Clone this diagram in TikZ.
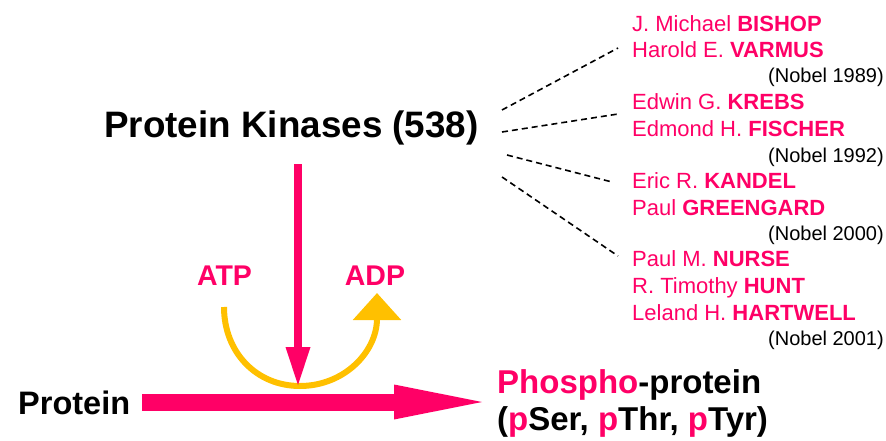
\documentclass[tikz,border=0pt]{standalone}
\usepackage{fontspec}
\setmainfont{Liberation Sans}
\usetikzlibrary{arrows.meta}
\definecolor{kinpink}{RGB}{255,0,102}
\definecolor{atpgold}{RGB}{255,192,0}
\tikzstyle{bigtext}=[anchor=base,inner sep=0pt,font=\bfseries\fontsize{36.8}{40}\selectfont]
\tikzstyle{midtext}=[anchor=base west,inner sep=0pt,font=\bfseries\fontsize{33}{37}\selectfont]
\tikzstyle{cofactor}=[anchor=base,inner sep=0pt,text=kinpink,font=\bfseries\fontsize{28.5}{31}\selectfont]
\tikzstyle{laureate}=[anchor=base west,inner sep=0pt,text=kinpink,font=\fontsize{22}{25}\selectfont]
\tikzstyle{prize}=[anchor=base east,inner sep=0pt,font=\fontsize{20}{23}\selectfont]
\tikzstyle{link} = [draw,line width=1.6pt,dash pattern=on 6pt off 4pt]

\begin{document}
\begin{tikzpicture}[x=1pt,y=-1pt]
    % Fix the page to the size of the slide
    \useasboundingbox (0,0) rectangle (886,441);

    % First we place the main labels
    \node[bigtext] (kinases) at (291.5,138) {Protein Kinases (538)};
    \node[midtext,font=\bfseries\fontsize{32.5}{36}\selectfont] (protein) at (18,414) {Protein};
    \node[midtext] (phospho) at (497,393) {\textcolor{kinpink}{Phospho}-protein};
    \node[midtext] (psites) at (497,430) {(\textcolor{kinpink}{p}Ser, \textcolor{kinpink}{p}Thr, \textcolor{kinpink}{p}Tyr)};
    \node[cofactor] (atp) at (224.5,285) {ATP};
    \node[cofactor] (adp) at (375,285) {ADP};

    % Then the laureates and their years
    \foreach \y/\name/\who in {32/bishop/J. Michael \textbf{BISHOP}, 58/varmus/Harold E. \textbf{VARMUS},
        110/krebs/Edwin G. \textbf{KREBS}, 137/fischer/Edmond H. \textbf{FISCHER},
        188/kandel/Eric R. \textbf{KANDEL}, 215/greengard/Paul \textbf{GREENGARD},
        266/nurse/Paul M. \textbf{NURSE}, 293/hunt/R. Timothy \textbf{HUNT}, 320/hartwell/Leland H. \textbf{HARTWELL}}
        \node[laureate] (\name) at (632,\y) {\who};
    \foreach \y/\year in {83/1989, 163/1992, 240/2000, 345/2001}
        \node[prize] (nobel\year) at (884,\y) {(Nobel \year)};

    % Ends of the connectors
    \foreach \x/\y/\name in {502/110/k1, 502/132/k2, 507/155/k3, 502/177/k4,
        618/48/n1, 618/114/n2, 612/182/n3, 618/256/n4,
        298/164/kfoot, 298/347/kbase, 298/385/khit,
        142/402/ptail, 394/402/pbase, 482/402/phead,
        224/307/atpfoot, 377/293/adpfoot}
        \coordinate (\name) at (\x,\y);

    % Dashed links to the prizes
    \foreach \source/ \dest in {k1/n1, k2/n2, k3/n3, k4/n4}
        \path[link] (\source) -- (\dest);

    % ATP -> ADP
    \draw[atpgold,line width=6pt,-{Triangle[length=27pt,width=47pt]}]
        (atpfoot) .. controls (224,352) and (256,386) .. (300,386)
        .. controls (344,386) and (377,352) .. (adpfoot);

    % Reaction arrows: shaft, then head
    \draw[kinpink,line width=17pt] (ptail) -- (pbase);
    \fill[kinpink] ([yshift=-17.5]pbase) -- (phead) -- ([yshift=17.5]pbase) -- cycle;
    \draw[kinpink,line width=8pt] (kfoot) -- (kbase);
    \fill[kinpink] ([xshift=-12.5]kbase) -- (khit) -- ([xshift=12.5]kbase) -- cycle;
\end{tikzpicture}
\end{document}
